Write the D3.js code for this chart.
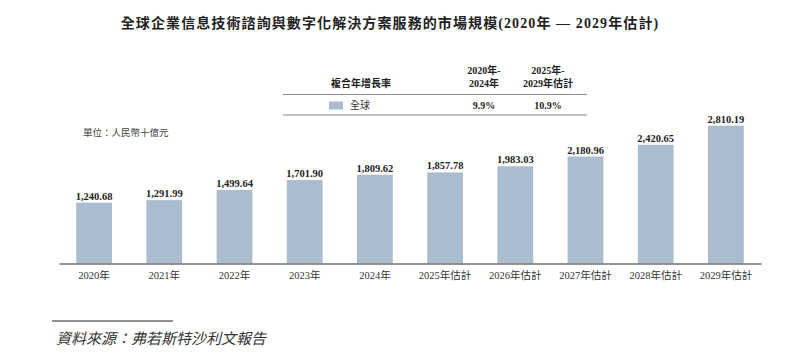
<!DOCTYPE html>
<html><head><meta charset="utf-8">
<script src="https://cdn.jsdelivr.net/npm/d3@7"></script>
<style>
html,body{margin:0;padding:0;background:#fff;}
svg{display:block;}
text{font-family:"Liberation Serif","Noto Sans CJK TC",serif;}
</style></head>
<body><svg id="chart" width="805" height="356"></svg>
<script>
const title = "全球企業信息技術諮詢與數字化解決方案服務的市場規模(2020年 — 2029年估計)";
const categories = ["2020年","2021年","2022年","2023年","2024年","2025年估計","2026年估計","2027年估計","2028年估計","2029年估計"];
const values = [1240.68,1291.99,1499.64,1701.90,1809.62,1857.78,1983.03,2180.96,2420.65,2810.19];
const seriesName = "全球";
const cagrHeaders = [["2020年-","2024年"],["2025年-","2029年估計"]];
const cagrValues = ["9.9%","10.9%"];
const cagrLabel = "複合年增長率";
const unitLabel = "單位：人民幣十億元";
const sourceLabel = "資料來源：弗若斯特沙利文報告";

const svg = d3.select("#chart");
const barColor = "#abbccf";

// title
svg.append("text").attr("x",390).attr("y",28).attr("text-anchor","middle")
  .attr("font-size",14).attr("font-weight","bold").attr("letter-spacing",1.1).attr("fill","#222")
  .text(title);

// scales
const x = d3.scaleBand().domain(categories).range([59,761]).paddingInner(0.49).paddingOuter(0.245);
const baseY = 263.5;
const y = d3.scaleLinear().domain([0,2810.19]).range([baseY,125.7]);

// bars
svg.append("g").selectAll("rect").data(values).join("rect")
  .attr("x",(d,i)=>x(categories[i])).attr("width",x.bandwidth())
  .attr("y",d=>y(d)).attr("height",d=>baseY-y(d)).attr("fill",barColor);

// value labels
const fmt = d3.format(",.2f");
svg.append("g").selectAll("text").data(values).join("text")
  .attr("x",(d,i)=>x(categories[i])+x.bandwidth()/2).attr("y",d=>y(d)-3)
  .attr("text-anchor","middle").attr("font-size",10.5).attr("font-weight","bold").attr("fill","#222")
  .text(d=>fmt(d));

// axis
const axis = d3.axisBottom(x).tickSize(0).tickPadding(8);
const ga = svg.append("g").attr("transform",`translate(0,${baseY})`).call(axis);
ga.select(".domain").attr("stroke","#707070").attr("stroke-width",1.5);
ga.selectAll(".tick text").attr("font-size",10.5).attr("fill","#333")
  .attr("font-family","\"Liberation Serif\",\"Noto Sans CJK TC\",serif");

// unit label
svg.append("text").attr("x",83).attr("y",136).attr("font-size",9.5).attr("fill","#444").text(unitLabel);

// CAGR table
const tbl = svg.append("g");
const colX = [484,548];
tbl.append("line").attr("x1",283).attr("x2",587).attr("y1",94.5).attr("y2",94.5).attr("stroke","#8a8a8a").attr("stroke-width",1);
tbl.append("line").attr("x1",283).attr("x2",587).attr("y1",115).attr("y2",115).attr("stroke","#c0c0c0").attr("stroke-width",2);
tbl.append("text").attr("x",361).attr("y",87).attr("text-anchor","middle").attr("font-size",10).attr("font-weight","bold").attr("fill","#222").text(cagrLabel);
cagrHeaders.forEach((h,i)=>{
  h.forEach((line,j)=>{
    tbl.append("text").attr("x",colX[i]).attr("y",74+j*13).attr("text-anchor","middle")
      .attr("font-size",10).attr("font-weight","bold").attr("fill","#222").text(line);
  });
});
tbl.append("rect").attr("x",329).attr("y",101.5).attr("width",14).attr("height",8).attr("fill",barColor);
tbl.append("text").attr("x",350).attr("y",108.5).attr("font-size",10).attr("fill","#333").text(seriesName);
cagrValues.forEach((v,i)=>{
  tbl.append("text").attr("x",colX[i]).attr("y",108.5).attr("text-anchor","middle")
    .attr("font-size",10).attr("font-weight","bold").attr("fill","#222").text(v);
});

// source
svg.append("line").attr("x1",52).attr("x2",173).attr("y1",321).attr("y2",321).attr("stroke","#222").attr("stroke-width",1);
svg.append("text").attr("x",56).attr("y",344).attr("font-size",15).attr("font-style","italic").attr("fill","#333").text(sourceLabel);
</script></body></html>
